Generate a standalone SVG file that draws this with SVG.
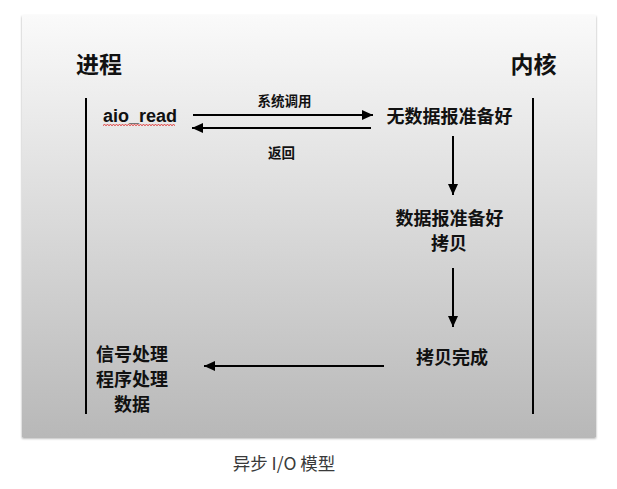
<svg xmlns="http://www.w3.org/2000/svg" width="617" height="489" viewBox="0 0 617 489">
  <defs>
    <linearGradient id="bg" x1="0" y1="0" x2="0" y2="1">
      <stop offset="0" stop-color="#fafafa"/>
      <stop offset="0.5" stop-color="#d9d9d9"/>
      <stop offset="1" stop-color="#b8b8b8"/>
    </linearGradient>
    <filter id="shadow" x="-5%" y="-5%" width="110%" height="110%">
      <feDropShadow dx="0" dy="1.5" stdDeviation="1" flood-color="#000" flood-opacity="0.35"/>
    </filter>
    <marker id="arrow" markerUnits="userSpaceOnUse" markerWidth="11" markerHeight="10" refX="11" refY="5" orient="auto">
      <path d="M0,0 L11,5 L0,10 z" fill="#000"/>
    </marker>
    <style>
      .cjk { font-family: "Noto Sans CJK SC", "Noto Sans", sans-serif; fill: #111; }
      .b { font-weight: bold; }
      .head { font-size: 23px; }
      .lbl { font-size: 18px; }
      .small { font-size: 13.5px; }
      .mid { text-anchor: middle; dominant-baseline: central; }
      .life { stroke: #000; stroke-width: 2; fill: none; }
      .conn { stroke: #000; stroke-width: 2; fill: none; marker-end: url(#arrow); }
    </style>
  </defs>

  <rect width="617" height="489" fill="#ffffff"/>
  <rect x="22" y="15" width="574" height="422" fill="url(#bg)" filter="url(#shadow)"/>

  <g id="process-header">
    <text class="cjk b head mid" x="99" y="63">进程</text>
    <line class="life" x1="86" y1="98" x2="86" y2="414"/>
  </g>
  <g id="kernel-header">
    <text class="cjk b head mid" x="533.5" y="63">内核</text>
    <line class="life" x1="533" y1="98" x2="533" y2="414"/>
  </g>

  <g id="aio-read">
    <text x="103" y="122" font-family="Liberation Sans, Arial, sans-serif" font-weight="bold" font-size="18" fill="#111">aio_read</text>
    <path d="M103,125.5 l1.5,-1 l1.5,1 l1.5,-1 l1.5,1 l1.5,-1 l1.5,1 l1.5,-1 l1.5,1 l1.5,-1 l1.5,1 l1.5,-1 l1.5,1 l1.5,-1 l1.5,1 l1.5,-1 l1.5,1 l1.5,-1 l1.5,1 l1.5,-1 l1.5,1 l1.5,-1 l1.5,1 l1.5,-1 l1.5,1 l1.5,-1 l1.5,1 l1.5,-1 l1.5,1 l1.5,-1 l1.5,1 l1.5,-1 l1.5,1 l1.5,-1 l1.5,1 l1.5,-1 l1.5,1 l1.5,-1 l1.5,1 l1.5,-1 l1.5,1 l1.5,-1 l1.5,1 l1.5,-1 l1.5,1 l1.5,-1 l1.5,1 l1.5,-1 l1.5,1" fill="none" stroke="#e03030" stroke-width="1"/>
  </g>

  <g id="no-data">
    <text class="cjk b lbl mid" x="449.5" y="115">无数据报准备好</text>
  </g>

  <g id="data-ready">
    <text class="cjk b lbl mid" x="449.5" y="216.5">数据报准备好</text>
    <text class="cjk b lbl mid" x="449" y="241.5">拷贝</text>
  </g>

  <g id="copy-done">
    <text class="cjk b lbl mid" x="452" y="355.5">拷贝完成</text>
  </g>

  <g id="signal-handler">
    <text class="cjk b lbl mid" x="132" y="353">信号处理</text>
    <text class="cjk b lbl mid" x="132" y="378">程序处理</text>
    <text class="cjk b lbl mid" x="132" y="403">数据</text>
  </g>

  <g id="connectors">
    <line class="conn" x1="193" y1="115" x2="373" y2="115"/>
    <text class="cjk b small mid" x="284.5" y="99.5">系统调用</text>
    <line class="conn" x1="371" y1="128" x2="192" y2="128"/>
    <text class="cjk b small mid" x="281.5" y="152">返回</text>
    <line class="conn" x1="453" y1="136" x2="453" y2="195"/>
    <line class="conn" x1="453" y1="268" x2="453" y2="327"/>
    <line class="conn" x1="384" y1="366" x2="204" y2="366"/>
  </g>

  <text x="284" y="462" font-family="Noto Sans CJK SC, Noto Sans, sans-serif" font-size="17.5" fill="#3a3a3a" text-anchor="middle" dominant-baseline="central">异步 I/O 模型</text>
</svg>
